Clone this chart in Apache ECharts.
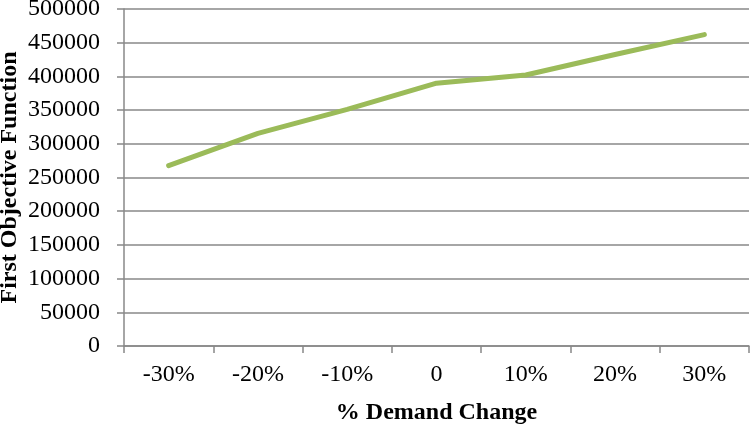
<!DOCTYPE html>
<html><head><meta charset="utf-8">
<script src="https://cdn.jsdelivr.net/npm/echarts@6/dist/echarts.min.js"></script>
<style>html,body{margin:0;padding:0;background:#fff}#c{width:751px;height:424px}</style>
</head><body><div id="c"></div>
<script>
const categories = ['-30%', '-20%', '-10%', '0', '10%', '20%', '30%'];
const values = [267500, 315500, 351000, 390000, 402000, 432500, 462000];
const xTitle = '% Demand Change';
const yTitle = 'First Objective Function';

const font = '"Liberation Serif", "Times New Roman", serif';
const chart = echarts.init(document.getElementById('c'), null, {renderer: 'canvas'});
chart.setOption({
  animation: false,
  backgroundColor: '#fff',
  grid: {left: 124, right: 2, top: 9, bottom: 78, containLabel: false, outerBoundsMode: 'none'},
  xAxis: {
    type: 'category', data: categories, boundaryGap: true,
    name: xTitle, nameLocation: 'middle', nameGap: 55, nameMoveOverlap: false,
    nameTextStyle: {fontFamily: font, fontWeight: 'bold', fontSize: 24, color: '#000'},
    axisLine: {lineStyle: {color: '#888', width: 1.5}},
    axisTick: {show: true, length: 7, lineStyle: {color: '#888', width: 1.5}},
    axisLabel: {fontFamily: font, fontSize: 24, color: '#000', margin: 17}
  },
  yAxis: {
    type: 'value', min: 0, max: 500000, interval: 50000,
    name: yTitle, nameLocation: 'middle', nameGap: 102, nameMoveOverlap: false,
    nameTextStyle: {fontFamily: font, fontWeight: 'bold', fontSize: 24, color: '#000'},
    axisLine: {show: true, lineStyle: {color: '#888', width: 1.5}},
    axisTick: {show: true, length: 7, lineStyle: {color: '#888', width: 1.5}},
    axisLabel: {fontFamily: font, fontSize: 24, color: '#000', margin: 24, formatter: v => String(v)},
    splitLine: {lineStyle: {color: '#888', width: 1.5}}
  },
  series: [{
    type: 'line', data: values, symbol: 'none',
    lineStyle: {color: '#9BBB59', width: 5, cap: 'round', join: 'round'}
  }]
});
</script></body></html>
